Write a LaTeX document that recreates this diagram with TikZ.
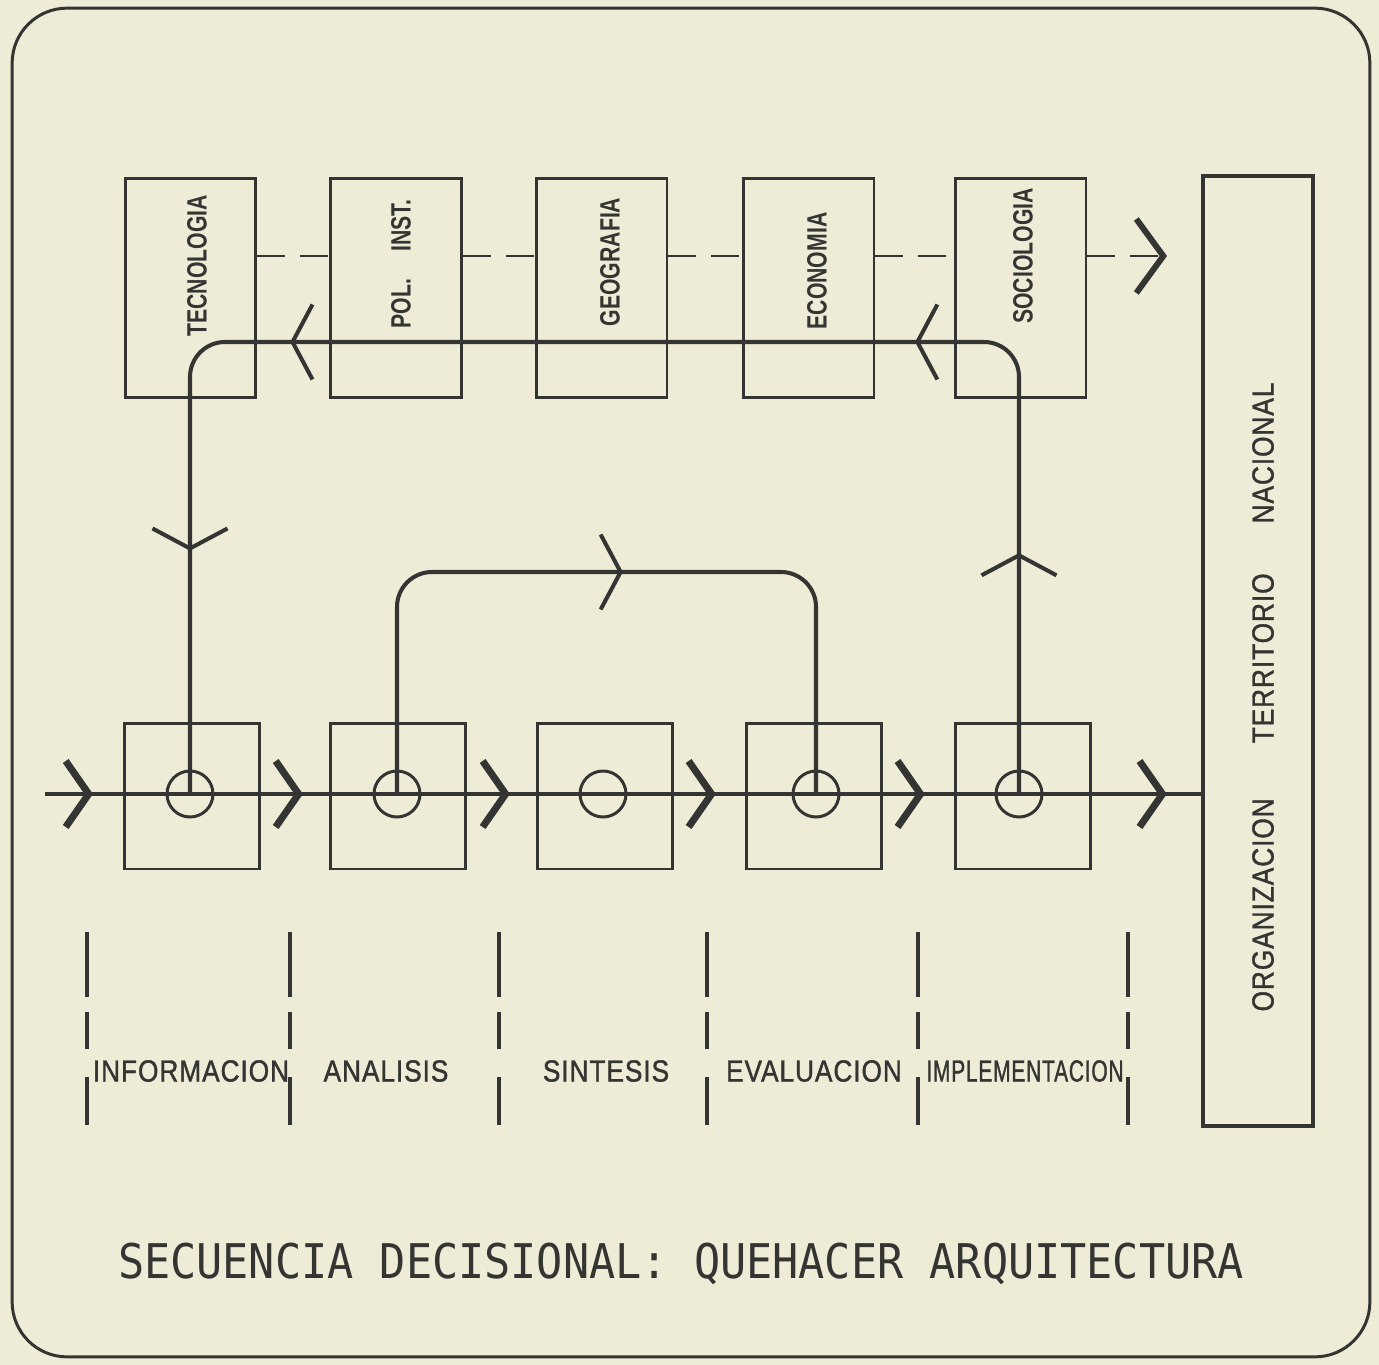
\documentclass[tikz,border=0pt]{standalone}
\usepackage{fontspec}
\setmainfont{Liberation Sans}
\newfontfamily\boxfont{Liberation Sans}[FakeStretch=0.76]
\newfontfamily\stagefont{Liberation Sans}[FakeStretch=0.86, LetterSpace=3, FakeBold=1.2]
\newfontfamily\titlefont{DejaVu Sans Mono}[FakeStretch=0.91]
\usetikzlibrary{arrows.meta,decorations.markings}

\definecolor{paper}{RGB}{238,236,214}
\definecolor{inkgray}{RGB}{52,52,50}

\tikzset{
  chevb/.tip={Straight Barb[sharp, length=0.46cm 0, width=1.32cm 0, line width=4pt 0]},
  chevt/.tip={Straight Barb[length=0.4cm 0, width=1.5cm 0, line width=2.3pt 0]},
  chevd/.tip={Straight Barb[sharp, length=0.54cm 0, width=1.48cm 0, line width=3.4pt 0]}
}

\begin{document}
\begin{tikzpicture}[x=0.02cm, y=-0.02cm,
    sheet/.style={draw=inkgray, line width=1.7pt, rounded corners=1.1cm, minimum width=27.16cm, minimum height=26.98cm, inner sep=0pt},
    factor/.style={draw=inkgray, line width=1.7pt, minimum width=2.62cm, minimum height=4.4cm, inner sep=0pt},
    stage/.style={draw=inkgray, line width=1.7pt, minimum width=2.7cm, minimum height=2.92cm, inner sep=0pt},
    hub/.style={circle, draw=inkgray, line width=1.7pt, minimum size=0.92cm, inner sep=0pt},
    region/.style={draw=inkgray, line width=1.9pt, minimum width=2.2cm, minimum height=19cm, inner sep=0pt},
    factor label/.style={rotate=90, text=inkgray, inner sep=0pt, font=\boxfont\bfseries\fontsize{15.9}{16}\selectfont},
    stage label/.style={text=inkgray, inner sep=0pt, font=\stagefont\fontsize{17.4}{18}\selectfont},
    title label/.style={text=inkgray, inner sep=0pt, font=\titlefont\fontsize{27.2}{28}\selectfont},
    mainline/.style={draw=inkgray, line width=2.3pt},
    loopline/.style={draw=inkgray, line width=2.3pt, rounded corners=0.7cm},
    dashline/.style={draw=inkgray, line width=1.7pt, dash pattern=on 0.56cm off 0.3cm},
    divider/.style={draw=inkgray, line width=1.8pt, dash pattern=on 1.3cm off 0.3cm on 0.74cm off 0.56cm on 0.96cm}
  ]
    % paper and outer frame
    \fill[paper] (0,0) rectangle (1379,1365);
    \useasboundingbox (0,0) rectangle (1379,1365);
    \node[sheet] (frame) at (691,682.5) {};

    % upper row: fields of knowledge
    \node[factor] (tec) at (190.5,288) {};
    \node[factor] (pol) at (396,288) {};
    \node[factor] (geo) at (601.5,288) {};
    \node[factor] (eco) at (808.5,288) {};
    \node[factor] (soc) at (1020.5,288) {};

    \node[factor label] (tecT) at (197,266) {TECNOLOGIA};
    \node[factor label] (polT) at (401,264) {POL.\hspace{0.55cm}INST.};
    \node[factor label] (geoT) at (610,262) {GEOGRAFIA};
    \node[factor label] (ecoT) at (817,271) {ECONOMIA};
    \node[factor label] (socT) at (1023,256) {SOCIOLOGIA};

    % lower row: decision stages
    \node[stage] (inf) at (192,796) {};
    \node[stage] (ana) at (398,796) {};
    \node[stage] (sin) at (605,796) {};
    \node[stage] (eva) at (814,796) {};
    \node[stage] (imp) at (1023,796) {};

    \node[hub] (hInf) at (190,794) {};
    \node[hub] (hAna) at (397,794) {};
    \node[hub] (hSin) at (603,794) {};
    \node[hub] (hEva) at (816,794) {};
    \node[hub] (hImp) at (1019,794) {};

    \node[region] (terr) at (1258,651) {};
    \node[stage label, rotate=90] (terrT) at (1263,697) {ORGANIZACION\hspace{1.1cm}TERRITORIO\hspace{1.0cm}NACIONAL};

    \coordinate (dashY) at (0,256);
    \coordinate (topY) at (0,342);
    \coordinate (midY) at (0,572);
    \coordinate (inStart) at (45,794);
    \coordinate (outTip) at (1167,256);

    % dashed link between the fields
    \foreach \a/\b in {tec/pol, pol/geo, geo/eco, eco/soc}
      \draw[dashline] (\a.east |- dashY) -- (\b.west |- dashY);
    \draw[dashline, -chevd] (soc.east |- dashY) -- (outTip);

    % main sequence
    \draw[mainline, postaction={decorate}, decoration={markings,
        mark=at position 0.96cm with {\arrow{chevb}},
        mark=at position 5.16cm with {\arrow{chevb}},
        mark=at position 9.3cm with {\arrow{chevb}},
        mark=at position 13.42cm with {\arrow{chevb}},
        mark=at position 17.6cm with {\arrow{chevb}},
        mark=at position 22.44cm with {\arrow{chevb}}}]
      (inStart) -- (terr.west |- inStart);

    % feedback loops
    \draw[loopline, postaction={decorate}, decoration={markings,
        mark=at position 4.82cm with {\arrow{chevt}},
        mark=at position 10.82cm with {\arrow{chevt}},
        mark=at position 23.32cm with {\arrow{chevt}},
        mark=at position 29.2cm with {\arrow{chevt}}}]
      (hImp.center) -- (hImp.center |- topY) -- (hInf.center |- topY) -- (hInf.center);
    \draw[loopline, postaction={decorate}, decoration={markings,
        mark=at position 8.66cm with {\arrow{chevt}}}]
      (hAna.center) -- (hAna.center |- midY) -- (hEva.center |- midY) -- (hEva.center);

    % stage dividers and names
    \foreach \x [count=\i] in {87,290,499,707,918,1128} {
      \coordinate (dv\i) at (\x,932);
      \draw[divider] (dv\i) -- ++(0,193);
    }
    \node[stage label] (infT) at (191,1071) {INFORMACION};
    \node[stage label] (anaT) at (386,1071) {ANALISIS};
    \node[stage label] (sinT) at (606,1071) {SINTESIS};
    \node[stage label] (evaT) at (814,1071) {EVALUACION};
    \node[stage label] (impT) at (1025,1071) {\scalebox{0.8}[1]{IMPLEMENTACION}};

    \node[title label] (title) at (681,1264) {SECUENCIA DECISIONAL: QUEHACER ARQUITECTURA};
  \end{tikzpicture}
\end{document}
